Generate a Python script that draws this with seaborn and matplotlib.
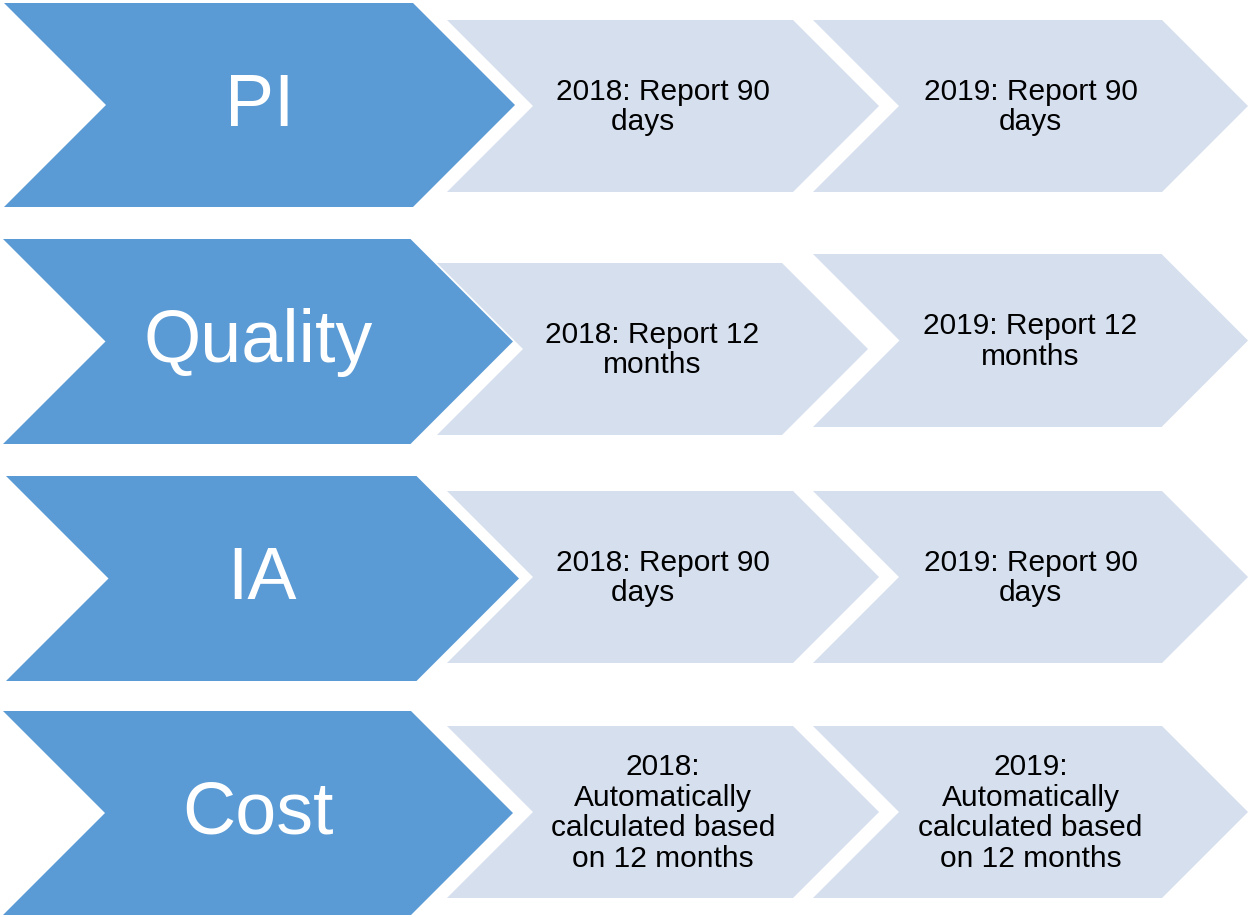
import matplotlib
matplotlib.use("Agg")
import matplotlib.pyplot as plt
from matplotlib.patches import Polygon
import seaborn as sns

# data
categories = ["PI", "Quality", "IA", "Cost"]
labels_2018 = [
    "2018: Report 90\ndays\u00a0\u00a0\u00a0\u00a0\u00a0",
    "2018: Report 12\nmonths",
    "2018: Report 90\ndays\u00a0\u00a0\u00a0\u00a0\u00a0",
    "2018:\nAutomatically\ncalculated based\non 12 months",
]
labels_2019 = [
    "2019: Report 90\ndays",
    "2019: Report 12\nmonths",
    "2019: Report 90\ndays",
    "2019:\nAutomatically\ncalculated based\non 12 months",
]

# layout (pixel boxes: left, tip, top, bottom)
main_boxes = [(4, 515, 3, 207), (3, 513, 239, 444), (6, 519, 476, 681), (3, 513, 711, 915)]
box_2018 = [(447, 879, 20, 192), (437, 868, 263, 435), (447, 879, 491, 663), (447, 879, 726, 898)]
box_2019 = [(813, 1248, 20, 192), (813, 1248, 254, 427), (813, 1248, 491, 663), (813, 1248, 726, 898)]

dark = "#5B9BD5"
light = "#D5DFEE"

sns.set_theme(style="white")
plt.rcParams["font.family"] = ["Liberation Sans", "DejaVu Sans"]

fig = plt.figure(figsize=(12.49, 9.17), dpi=100)
ax = fig.add_axes([0, 0, 1, 1])
ax.set_xlim(0, 1249)
ax.set_ylim(917, 0)
ax.axis("off")


def chevron(box, color):
    x0, x1, y0, y1 = box
    ym = (y0 + y1) / 2
    d = (y1 - y0) / 2
    pts = [(x0, y0), (x1 - d, y0), (x1, ym), (x1 - d, y1), (x0, y1), (x0 + d, ym)]
    ax.add_patch(Polygon(pts, closed=True, facecolor=color, edgecolor="none"))
    return (x0 + x1) / 2, ym


for i, cat in enumerate(categories):
    cx, cy = chevron(main_boxes[i], dark)
    ax.text(cx, cy + 1, cat, color="white", fontsize=53, ha="center", va="center")

    for boxes, labels in [(box_2018, labels_2018), (box_2019, labels_2019)]:
        cx, cy = chevron(boxes[i], light)
        ax.text(cx, cy + 1, labels[i], color="black", fontsize=21.5, ha="center",
                va="center", multialignment="center", linespacing=1.13)

fig.savefig("out.png", dpi=100)
